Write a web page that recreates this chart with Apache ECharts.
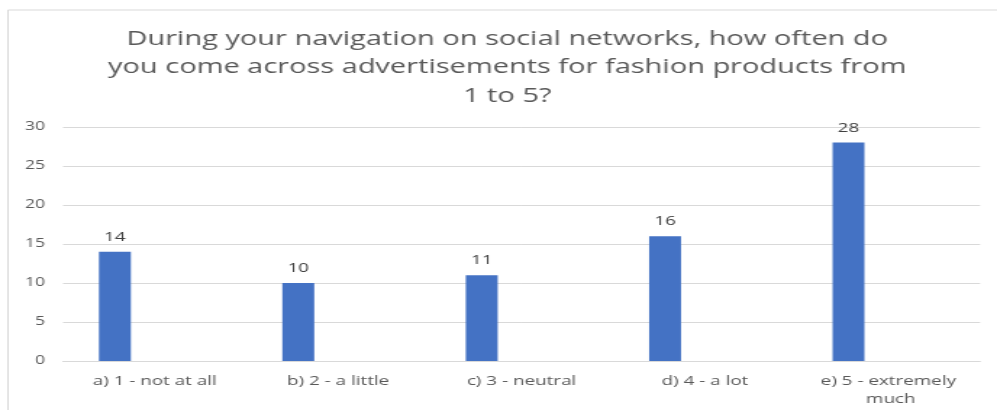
<!DOCTYPE html>
<html>
<head>
<meta charset="utf-8">
<script src="https://cdn.jsdelivr.net/npm/echarts@6/dist/echarts.min.js"></script>
<style>
  html, body { margin: 0; padding: 0; background: #ffffff; overflow: hidden; }
  /* the chart is laid out narrower and widened to the full 997px frame */
  #chart { width: 688px; height: 410px; transform: scaleX(1.44913); transform-origin: 0 0; }
</style>
</head>
<body>
<div id="chart"></div>
<script>
// Survey answers: how often fashion ads appear while browsing social networks
const titleText = 'During your navigation on social networks, how often do\nyou come across advertisements for fashion products from\n1 to 5?';
const categories = ['a) 1 - not at all', 'b) 2 - a little', 'c) 3 - neutral', 'd) 4 - a lot', 'e) 5 - extremely much'];
const responses = [14, 10, 11, 16, 28];
// empty companion series keeps the bars in the left slot of each category
const emptySlot = [null, null, null, null, null];
const yTicks = { min: 0, max: 30, step: 5 };

const chart = echarts.init(document.getElementById('chart'), null, { renderer: 'canvas' });

chart.setOption({
  backgroundColor: '#ffffff',
  animation: false,
  graphic: [{
    type: 'rect',
    shape: { x: 5.5, y: 10, width: 700, height: 420 },
    style: { fill: 'none', stroke: '#d9d9d9', lineWidth: 1 },
    silent: true,
    z: -1
  }],
  title: {
    text: titleText,
    left: 345,
    textAlign: 'center',
    top: 20,
    textStyle: {
      fontFamily: 'Open Sans',
      fontSize: 20,
      fontWeight: 'normal',
      color: '#595959',
      lineHeight: 28.5
    }
  },
  grid: { left: 43.5, right: 11.7, top: 127, bottom: 49 },
  xAxis: {
    type: 'category',
    data: categories,
    axisLine: { lineStyle: { color: '#d9d9d9' } },
    axisTick: { show: false },
    axisLabel: {
      color: '#595959',
      fontFamily: 'Open Sans',
      fontSize: 13,
      margin: 11,
      width: 95,
      overflow: 'break',
      lineHeight: 18,
      interval: 0
    }
  },
  yAxis: {
    type: 'value',
    min: yTicks.min,
    max: yTicks.max,
    interval: yTicks.step,
    axisLine: { show: false },
    axisTick: { show: false },
    splitLine: { lineStyle: { color: '#d9d9d9' } },
    axisLabel: {
      color: '#595959',
      fontFamily: 'Open Sans',
      fontSize: 12,
      margin: 12.5
    }
  },
  series: [
    {
      type: 'bar',
      data: responses,
      barWidth: 22,
      barGap: '150%',
      itemStyle: { color: '#4472c4' },
      label: {
        show: true,
        position: 'top',
        distance: 8,
        color: '#404040',
        fontFamily: 'Open Sans',
        fontSize: 13
      }
    },
    {
      type: 'bar',
      data: emptySlot,
      barWidth: 22,
      barGap: '150%'
    }
  ]
});
</script>
</body>
</html>
